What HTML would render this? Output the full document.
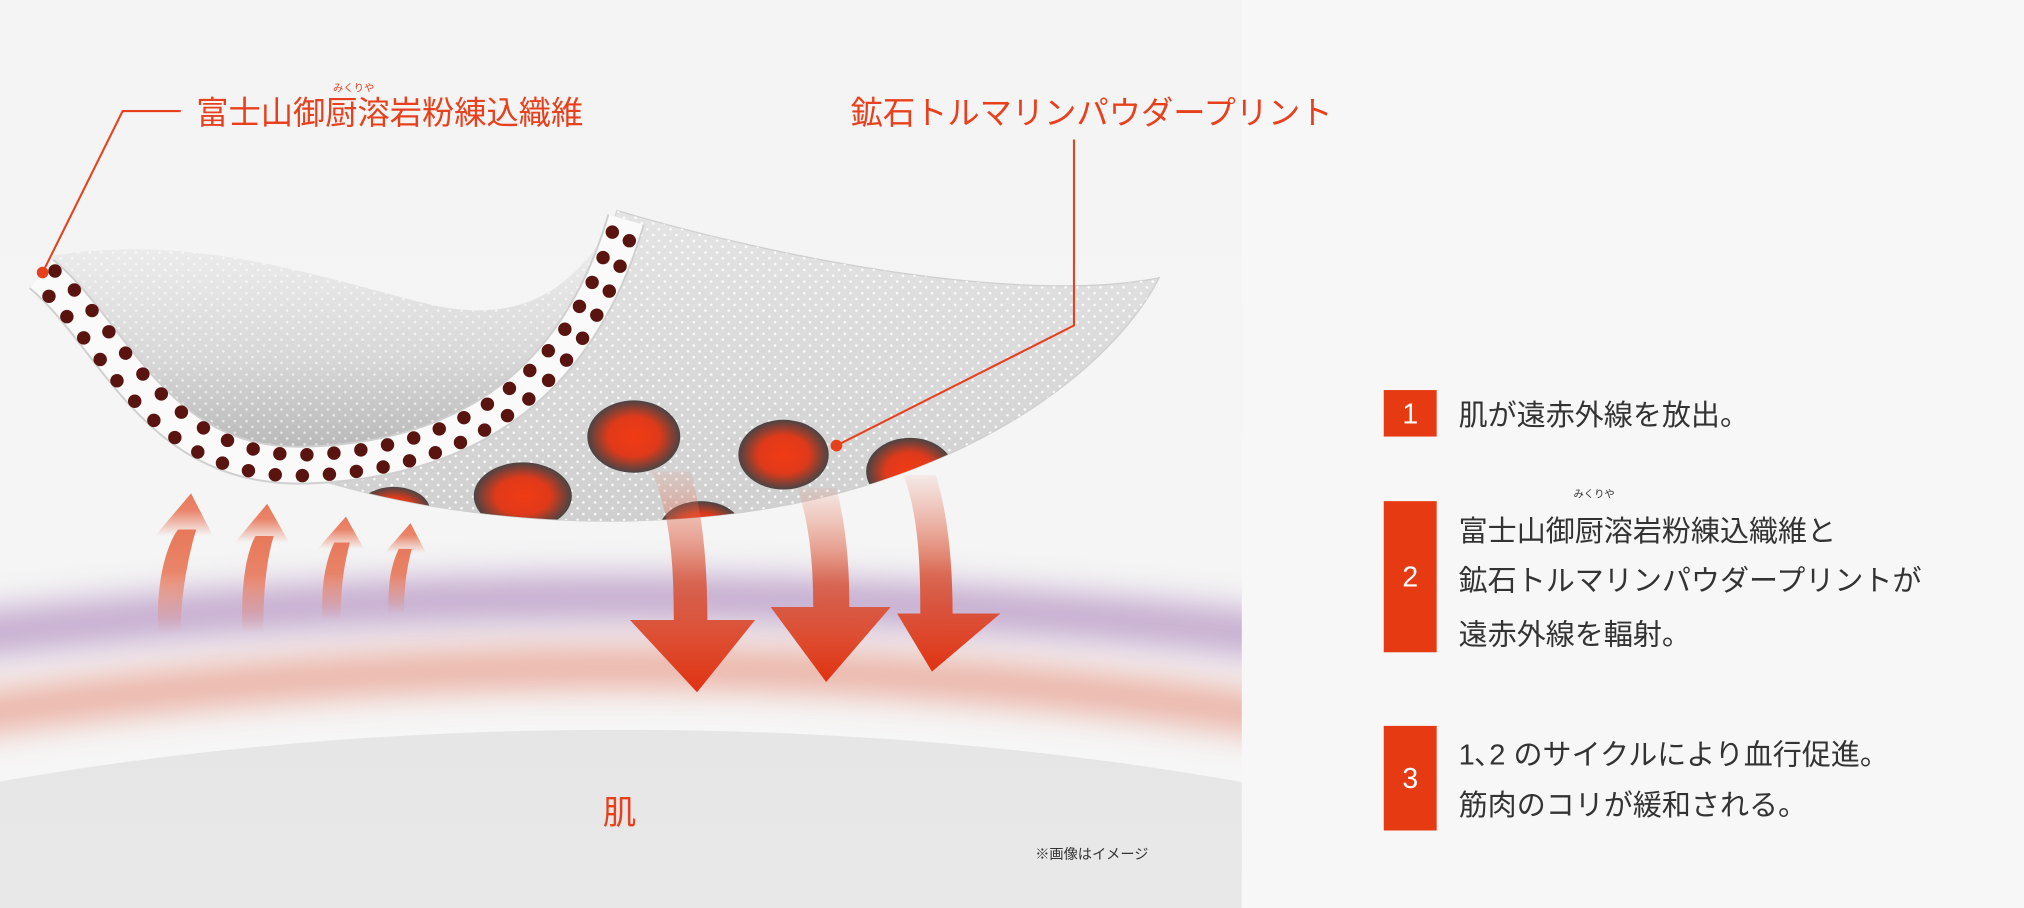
<!DOCTYPE html>
<html><head><meta charset="utf-8"><style>
html,body{margin:0;padding:0;background:#f7f7f7;overflow:hidden;width:2024px;height:908px;}
svg{display:block;}
text{font-family:"Liberation Sans","Noto Sans CJK JP",sans-serif;}
</style></head><body>
<svg id="s" width="2024" height="908" viewBox="0 0 1568 703" preserveAspectRatio="none" xmlns="http://www.w3.org/2000/svg">
<defs>
<pattern id="dots" width="9" height="9" patternUnits="userSpaceOnUse"><circle cx="2" cy="2" r="1" fill="#fff" opacity="0.9"/><circle cx="6.5" cy="6.5" r="1" fill="#fff" opacity="0.9"/></pattern>
<linearGradient id="bg" x1="0" y1="0" x2="0" y2="1"><stop offset="0" stop-color="#f4f4f4"/><stop offset="1" stop-color="#f6f6f6"/></linearGradient>
<linearGradient id="skin" x1="0" y1="0" x2="0" y2="1"><stop offset="0" stop-color="#e6e6e6"/><stop offset="1" stop-color="#f4f4f4"/></linearGradient>
<linearGradient id="backg" x1="0" y1="0" x2="0" y2="1"><stop offset="0" stop-color="#e4e4e4"/><stop offset="1" stop-color="#cfcfcf"/></linearGradient>
<linearGradient id="frontg" x1="0" y1="0" x2="0" y2="1"><stop offset="0" stop-color="#f2f2f2"/><stop offset="0.6" stop-color="#d8d8d8"/><stop offset="1" stop-color="#b8b8b8"/></linearGradient>
<radialGradient id="blob"><stop offset="0" stop-color="#f03a14"/><stop offset="0.55" stop-color="#e03a1a"/><stop offset="1" stop-color="#4a4444"/></radialGradient>
<linearGradient id="up" x1="0" y1="1" x2="0" y2="0"><stop offset="0" stop-color="#e8785a" stop-opacity="0"/><stop offset="0.6" stop-color="#e8785a" stop-opacity="0.9"/><stop offset="1" stop-color="#e8785a"/></linearGradient>
<linearGradient id="down" x1="0" y1="0" x2="0" y2="1"><stop offset="0" stop-color="#e8785a" stop-opacity="0.1"/><stop offset="0.5" stop-color="#d8553a" stop-opacity="0.85"/><stop offset="1" stop-color="#e03212"/></linearGradient>
<filter id="blur" filterUnits="userSpaceOnUse" x="-100" y="300" width="1200" height="400"><feGaussianBlur stdDeviation="13"/></filter>
<clipPath id="leftc"><rect x="0" y="0" width="962" height="703"/></clipPath>
<clipPath id="sheetc"><path d="M478,163 C620,205 800,235 898,215 C860,290 730,390 520,402 C420,408 300,395 200,355 L240,350 C360,345 440,290 478,163 Z"/></clipPath>
</defs>
<rect width="1568" height="703" fill="#f7f7f7"/>
<rect width="962" height="703" fill="url(#bg)"/>
<g clip-path="url(#leftc)">
  <g filter="url(#blur)" opacity="0.85">
    <path d="M-40,494 Q480,432 1000,494" fill="none" stroke="#b99ac6" stroke-width="34"/>
    <path d="M-40,556 Q480,478 1000,556" fill="none" stroke="#e8a090" stroke-width="30"/>
  </g>
  <ellipse cx="480" cy="965" rx="1100" ry="400" fill="url(#skin)"/>
</g>
<!-- up arrows -->
<g fill="url(#up)">
  <path d="M123,490 C120,450 130,420 138,410 L152,410 C146,430 140,460 140,490 Z"/><polygon points="148,382 165,415 120,415"/>
  <path d="M188,490 C186,450 192,425 198,415 L212,415 C206,435 204,460 204,490 Z"/><polygon points="207,390 224,420 182,420"/>
  <path d="M250,480 C248,450 254,430 259,420 L271,420 C266,440 264,455 264,480 Z"/><polygon points="268,400 282,425 246,425"/>
  <path d="M301,475 C300,450 304,435 309,425 L319,425 C315,440 313,455 313,475 Z"/><polygon points="318,405 330,428 298,428"/>
</g>
<!-- fabric back sheet -->
<path d="M478,163 C620,205 800,235 898,215 C860,290 730,390 520,402 C420,408 300,395 200,355 L240,350 C360,345 440,290 478,163 Z" fill="url(#backg)" stroke="#cfcfcf"/>
<path d="M478,163 C620,205 800,235 898,215 C860,290 730,390 520,402 C420,408 300,395 200,355 L240,350 C360,345 440,290 478,163 Z" fill="url(#dots)"/>
<g clip-path="url(#sheetc)">
  <ellipse cx="491" cy="338" rx="36" ry="28" fill="url(#blob)"/>
  <ellipse cx="607" cy="352" rx="35" ry="27" fill="url(#blob)"/>
  <ellipse cx="405" cy="384" rx="38" ry="26" fill="url(#blob)"/>
  <ellipse cx="705" cy="365" rx="34" ry="26" fill="url(#blob)"/>
  <ellipse cx="543" cy="410" rx="32" ry="22" fill="url(#blob)"/>
  <ellipse cx="305" cy="395" rx="28" ry="18" fill="url(#blob)"/>
</g>
<!-- down arrows -->
<g fill="url(#down)">
  <path d="M505,365 L535,365 C545,400 548,440 548,480 L585,480 L540,536 L488,480 L522,480 C522,440 520,400 505,365 Z"/>
  <path d="M618,378 L648,378 C656,410 658,440 658,470 L690,470 L640,528 L597,470 L630,470 C630,440 628,410 618,378 Z"/>
  <path d="M700,368 L725,368 C735,400 738,440 738,475 L775,475 L722,520 L695,475 L713,475 C713,440 712,400 700,368 Z"/>
</g>
<!-- front sheet -->
<path d="M40,198 C150,180 250,215 330,235 C400,252 445,228 478,165 C440,290 360,345 240,350 C130,355 90,260 40,198 Z" fill="url(#frontg)"/>
<path d="M40,198 C150,180 250,215 330,235 C400,252 445,228 478,165 C440,290 360,345 240,350 C130,355 90,260 40,198 Z" fill="url(#dots)" opacity="0.7"/>
<!-- strip -->
<path d="M32,212 C90,260 120,365 240,360 C370,355 450,290 485,170" fill="none" stroke="#cfcfcf" stroke-width="30"/>
<path d="M32,212 C90,260 120,365 240,360 C370,355 450,290 485,170" fill="none" stroke="#fafafa" stroke-width="27"/>
<path id="r1" d="M38,206 C96,252 126,356 240,352 C366,347 444,284 478,168" fill="none"/>
<path id="r2" d="M26,218 C84,268 114,374 240,368 C374,363 456,296 492,172" fill="none"/>
<g id="dotsg" fill="#5a1410"></g>
<!-- leaders -->
<polyline points="140,86 95,86 33,211" fill="none" stroke="#e8401c" stroke-width="1.6"/>
<circle cx="33" cy="211" r="4.5" fill="#e8401c"/>
<polyline points="832,108 832,252 648,345" fill="none" stroke="#e8401c" stroke-width="1.6"/>
<circle cx="648" cy="345" r="4.5" fill="#e8401c"/>
<text x="152" y="96" font-size="25" fill="#e8401c">富士山御厨溶岩粉練込織維</text>
<text x="258" y="71" font-size="8" fill="#e8401c">みくりや</text>
<text x="659" y="96" font-size="25" fill="#e8401c">鉱石トルマリンパウダープリント</text>
<text x="467" y="638" font-size="26" fill="#e8401c">肌</text>
<text x="802" y="665" font-size="11" fill="#333">※画像はイメージ</text>
<!-- right panel -->
<g fill="#e63a12"><rect x="1072" y="302" width="41" height="36"/><rect x="1072" y="388" width="41" height="117"/><rect x="1072" y="562" width="41" height="81"/></g>
<g fill="#fff" font-size="22" text-anchor="middle"><text x="1092.5" y="328">1</text><text x="1092.5" y="454">2</text><text x="1092.5" y="610">3</text></g>
<g fill="#333" font-size="22.5">
<text x="1130" y="329">肌が遠赤外線を放出。</text>
<text x="1219" y="385" font-size="8">みくりや</text>
<text x="1130" y="419">富士山御厨溶岩粉練込織維と</text>
<text x="1130" y="457">鉱石トルマリンパウダープリントが</text>
<text x="1130" y="499">遠赤外線を輻射。</text>
<text x="1130" y="592">1､2 のサイクルにより血行促進。</text>
<text x="1130" y="631">筋肉のコリが緩和される。</text>
</g>
</svg>
<script>
(function(){var NS="http://www.w3.org/2000/svg",g=document.getElementById("dotsg");
[["r1",0],["r2",0.5]].forEach(function(a){var p=document.getElementById(a[0]);var L=p.getTotalLength();var step=21;for(var d=step*a[1]+6;d<L-4;d+=step){var pt=p.getPointAtLength(d);var c=document.createElementNS(NS,"circle");c.setAttribute("cx",pt.x);c.setAttribute("cy",pt.y);c.setAttribute("r",5.2);g.appendChild(c);}});})();
</script>
</body></html>
